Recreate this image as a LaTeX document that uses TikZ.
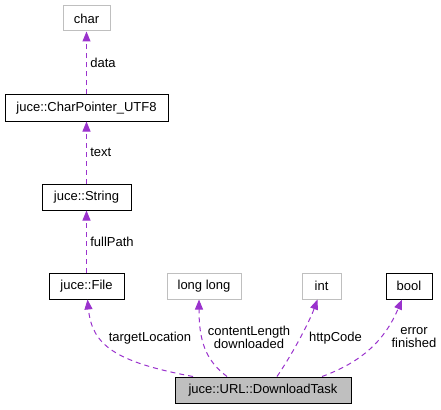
\documentclass[tikz,border=0pt]{standalone}
\usepackage{fontspec}
\setmainfont{Liberation Sans}
\usetikzlibrary{arrows.meta, shapes}
\definecolor{depPurple}{HTML}{9A32CD}
\definecolor{boxGray}{HTML}{BFBFBF}
\newcommand{\depArrow}{{Triangle[length=10pt, width=8pt]}}

\begin{document}
\begin{tikzpicture}[x=1pt, y=-1pt, font=\fontsize{13}{13}\selectfont,
	cls/.style={draw=black, line width=1pt, minimum height=26pt, inner sep=0pt},
	ext/.style={cls, draw=boxGray},
	dep/.style={depPurple, line width=1pt, dash pattern=on 5pt off 4pt, -\depArrow},
	lbl/.style={text=black}]
	\useasboundingbox (0,0) rectangle (441,409);
	
	\node[ext, minimum width=47pt, minimum height=25pt]	(char)	at (86.5,18.5)	{char};
	\node[cls, minimum width=163pt]	(cpu)	at (86.5,108)	{juce::CharPointer\_UTF8};
	\node[cls, minimum width=89pt]	(str)	at (86.5,197)	{juce::String};
	\node[cls, minimum width=75pt]	(file)	at (86.5,286)	{juce::File};
	\node[ext, minimum width=74pt]	(ll)	at (204,286)	{long long};
	\node[ext, minimum width=39pt]	(int)	at (321.5,286)	{int};
	\node[cls, minimum width=46pt]	(bool)	at (409,286)	{bool};
	\node[cls, fill=boxGray, minimum width=176pt]	(task)	at (263,390)	{juce::URL::DownloadTask};
	
	\draw[dep]	(cpu) -- (char) node[lbl, midway, right] (dataLbl) {data};
	\draw[dep]	(str) -- (cpu) node[lbl, midway, right] (textLbl) {text};
	\draw[dep]	(file) -- (str) node[lbl, midway, right] (pathLbl) {fullPath};
	
	\draw[dep]	([xshift=-70pt]task.north) .. controls (115,362) and (92,345) .. ([xshift=1pt]file.south);
	\draw[dep]	([xshift=-36pt]task.north) .. controls (205,360) and (199,340) .. ([xshift=-5pt]ll.south);
	\draw[dep]	([xshift=14pt]task.north) .. controls (295,350) and (310,320) .. ([xshift=-4pt]int.south);
	\draw[dep]	([xshift=59pt]task.north) .. controls (362,362) and (385,340) .. ([xshift=-7pt]bool.south);
	
	\node (locLbl)	at (150,338)	{targetLocation};
	\node[align=center] (lenLbl)	at (249,337.5)	{contentLength\\downloaded};
	\node (codeLbl)	at (335.5,338)	{httpCode};
	\node[align=center] (errLbl)	at (414,337.5)	{error\\finished};
\end{tikzpicture}
\end{document}
